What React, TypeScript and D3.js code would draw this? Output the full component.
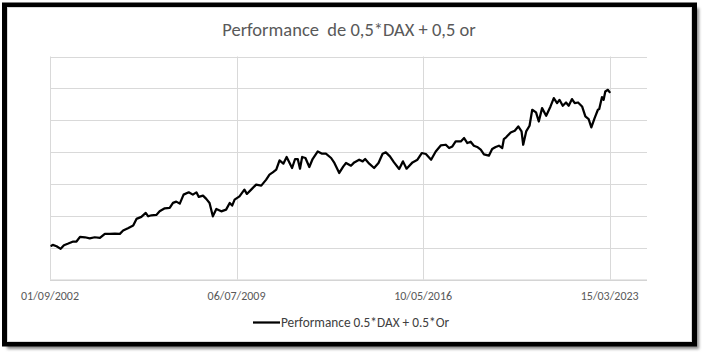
import React from "react";
import * as d3 from "d3";

const title = "Performance  de 0,5*DAX + 0,5 or";
const seriesName = "Performance 0.5*DAX + 0.5*Or";
const tickDates = ["2002-09-01", "2009-07-06", "2016-05-10", "2023-03-15"];
const yTicks = [0, 50, 100, 150, 200, 250, 300, 350];

const dates = [
  "2002-09-20","2002-10-08","2002-11-28","2003-01-22","2003-03-07","2003-05-04","2003-07-09","2003-08-22","2003-10-08","2003-12-13",
  "2004-02-16","2004-04-22","2004-07-01","2004-09-05","2004-11-10","2005-01-18","2005-03-25","2005-05-08","2005-07-12","2005-09-20",
  "2005-11-03","2006-01-07","2006-03-07","2006-04-09","2006-05-22","2006-07-27","2006-09-09","2006-11-17","2007-01-22","2007-03-07",
  "2007-04-20","2007-06-06","2007-07-27","2007-10-04","2007-11-28","2008-01-15","2008-02-16","2008-04-12","2008-05-26","2008-07-09",
  "2008-08-22","2008-10-08","2008-12-13","2009-02-16","2009-04-05","2009-05-08","2009-06-10","2009-08-14","2009-10-19","2009-11-21",
  "2010-01-18","2010-03-25","2010-06-02","2010-08-07","2010-09-20","2010-11-03","2010-12-20","2011-02-02","2011-03-25","2011-05-08",
  "2011-07-20","2011-08-29","2011-10-04","2011-11-03","2011-12-02","2012-01-15","2012-03-07","2012-04-20","2012-06-28","2012-08-25",
  "2012-10-15","2012-12-24","2013-02-06","2013-04-12","2013-06-06","2013-07-12","2013-09-16","2013-10-30","2014-01-04","2014-02-20",
  "2014-03-25","2014-05-19","2014-07-23","2014-09-20","2014-11-14","2014-12-27","2015-02-20","2015-04-16","2015-06-24","2015-08-14",
  "2015-10-01","2015-12-20","2016-02-24","2016-04-22","2016-06-16","2016-08-25","2016-10-26","2017-01-01","2017-03-10","2017-04-23",
  "2017-06-06","2017-07-20","2017-09-27","2017-11-10","2017-12-24","2018-02-06","2018-03-21","2018-05-04","2018-06-21","2018-08-03",
  "2018-10-08","2018-11-21","2019-01-07","2019-02-20","2019-04-05","2019-04-27","2019-05-30","2019-07-27","2019-09-20","2019-11-06",
  "2019-12-20","2020-01-11","2020-02-20","2020-04-05","2020-05-11","2020-07-01","2020-08-07","2020-09-20","2020-11-14","2021-01-11",
  "2021-02-24","2021-04-09","2021-05-11","2021-06-24","2021-08-07","2021-09-12","2021-10-26","2021-12-02","2022-01-15","2022-03-10",
  "2022-04-23","2022-06-06","2022-07-12","2022-08-25","2022-10-08","2022-10-26","2022-12-02","2022-12-24","2023-01-15","2023-02-20",
  "2023-03-14","2023-04-12"
];

const values = [
  53, 54.4, 52.2, 48.1, 53.8, 56.4, 59.6, 59.6, 66.9,
  66.3, 64.7, 66.3, 65.3, 71.6, 71.6, 72.1, 71.6, 76.8, 80.4,
  84.6, 95.1, 98.3, 104.5, 99.2, 100.8, 101.4, 107, 111.7, 112.4,
  120.2, 122.2, 119.1, 133.2, 136.8, 133.2, 136.8, 129.6, 131.6, 126.5,
  120.2, 99.2, 110.8, 107, 109.7, 120.2, 116, 125.4, 130.5, 141,
  134.3, 141, 148.9, 147.3, 156.7, 164.5, 168.1, 172.4, 187, 181.8,
  192.3, 175, 189.1, 189.1, 173.9, 192.3, 190.7, 176.6, 189.1, 201,
  197.4, 197.4, 190.7, 182.9, 167.2, 177.5, 182.9, 178.6, 183.8, 188,
  185.4, 189.1, 181.8, 175, 182.9, 197.4, 199.5, 193.2, 183.8, 173.5,
  185.4, 173.9, 183.8, 188, 198.5, 197, 188, 201, 210.4, 211.5,
  206.4, 208.9, 216.7, 216.7, 222, 214.2, 216.3, 210, 208, 203.7,
  196.3, 194.3, 204.8, 208, 210, 206.4, 220.5, 223.6, 230.8, 233.5,
  240.2, 232.4, 211.5, 232.4, 241.3, 266.4, 262.2, 248, 269, 257,
  271.6, 284.7, 276.9, 282, 272.7, 277.8, 272.7, 283.2, 276.9, 277.8,
  271.6, 255.9, 251.8, 238.7, 253.4, 266.4, 267.5, 286.3, 282, 295.1,
  297.7, 294.1
];

const W = 704;
const H = 356;
const plot = { left: 50, right: 647, top: 56.5, bottom: 279.5 };
const parse = d3.timeParse("%Y-%m-%d");
const fmt = d3.timeFormat("%d/%m/%Y");

export default function App() {
  const d0 = parse(tickDates[0]) as Date;
  const d1 = d3.timeDay.offset(d0, 8000);
  const x = d3.scaleTime().domain([d0, d1]).range([plot.left, plot.right]);
  const y = d3.scaleLinear().domain([0, 350]).range([plot.bottom, plot.top]);
  const pts = dates.map((d, i) => [parse(d) as Date, values[i]] as [Date, number]);
  const line = d3
    .line<[Date, number]>()
    .x((d) => x(d[0]))
    .y((d) => y(d[1]))
    .curve(d3.curveLinear);
  const ticks = tickDates.map((t) => parse(t) as Date);
  const font = "Calibri, Carlito, 'Open Sans', 'Liberation Sans', sans-serif";

  return (
    <svg
      width={W}
      height={H}
      style={{ position: "absolute", left: 0, top: 0, background: "#fff" }}
    >
      <defs>
        <filter id="shadow" x="-5%" y="-5%" width="110%" height="110%">
          <feGaussianBlur stdDeviation="1.5" />
        </filter>
      </defs>
      <rect x={7} y={8} width={692} height={341} fill="#8a8a8a" filter="url(#shadow)" />
      <rect x={4.5} y={5} width={690} height={339} fill="#fff" stroke="#000" strokeWidth={5} />
      <rect x={7.5} y={7.5} width={684} height={334} fill="none" stroke="#d9d9d9" strokeWidth={1} />

      <text
        x={349}
        y={36}
        textAnchor="middle"
        fontFamily={font}
        fontSize={18.5}
        fill="#595959"
        style={{ whiteSpace: "pre" }}
      >
        {title}
      </text>

      {yTicks.map((t) => (
        <line
          key={"h" + t}
          x1={plot.left}
          x2={plot.right}
          y1={Math.round(y(t)) + 0.5}
          y2={Math.round(y(t)) + 0.5}
          stroke="#d9d9d9"
          strokeWidth={1}
        />
      ))}
      {ticks.map((t, i) => (
        <line
          key={"v" + i}
          x1={Math.round(x(t)) + 0.5}
          x2={Math.round(x(t)) + 0.5}
          y1={plot.top}
          y2={plot.bottom}
          stroke="#d9d9d9"
          strokeWidth={1}
        />
      ))}
      <line x1={plot.left} x2={plot.right} y1={280} y2={280} stroke="#d0d0d0" strokeWidth={1} />

      {ticks.map((t, i) => (
        <text
          key={"tl" + i}
          x={x(t)}
          y={300}
          textAnchor="middle"
          fontFamily={font}
          fontSize={12}
          fill="#595959"
        >
          {fmt(t)}
        </text>
      ))}

      <path
        d={line(pts) || ""}
        fill="none"
        stroke="#000"
        strokeWidth={2.25}
        strokeLinejoin="round"
        strokeLinecap="round"
      />

      <line x1={253} x2={280} y1={322.5} y2={322.5} stroke="#000" strokeWidth={2.25} />
      <text x={281} y={327} fontFamily={font} fontSize={13.3} fill="#404040">
        {seriesName}
      </text>
    </svg>
  );
}
